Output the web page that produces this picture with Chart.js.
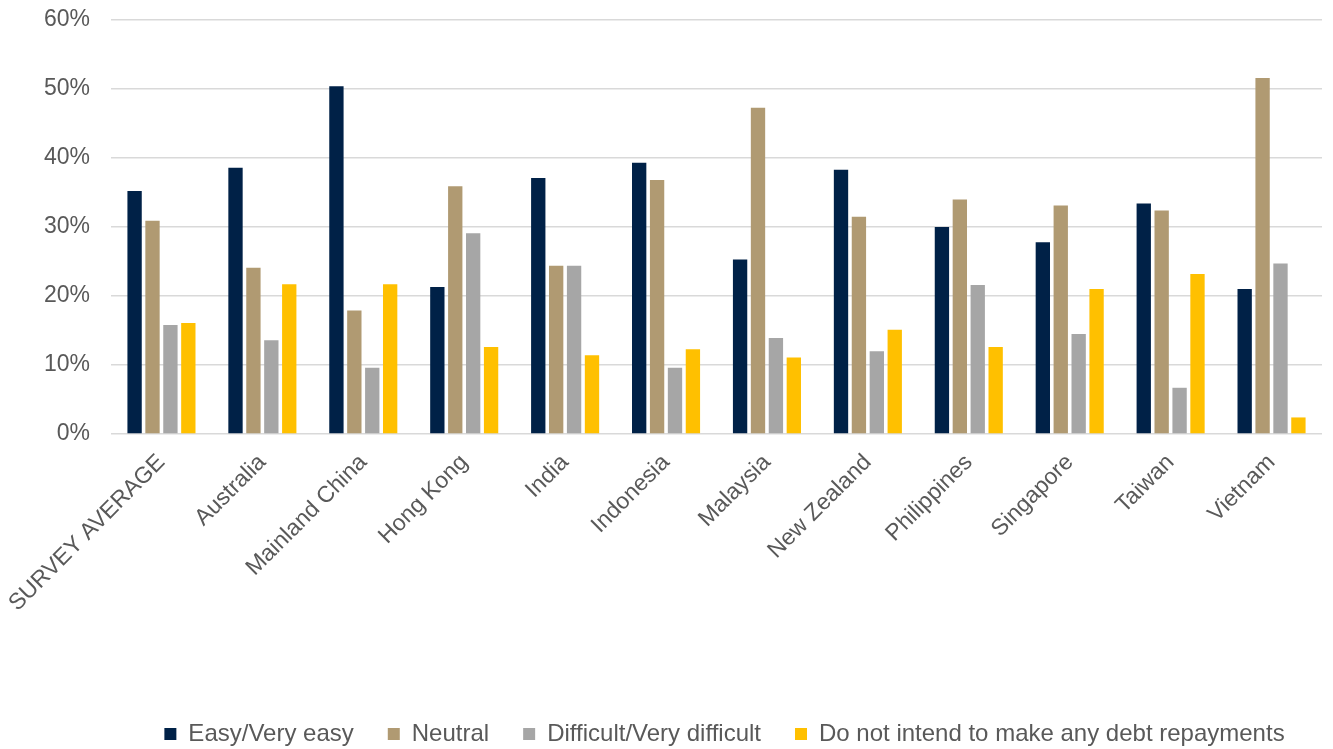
<!DOCTYPE html>
<html>
<head>
<meta charset="utf-8">
<script src="https://cdn.jsdelivr.net/npm/chart.js@4.4.1/dist/chart.umd.min.js"></script>
<style>
html,body{margin:0;padding:0;background:#fff;}
#wrap{width:1333px;height:749px;position:relative;}
</style>
</head>
<body>
<div id="wrap"><canvas id="c" width="1333" height="749"></canvas></div>
<script>
const categories = ['SURVEY AVERAGE','Australia','Mainland China','Hong Kong','India','Indonesia','Malaysia','New Zealand','Philippines','Singapore','Taiwan','Vietnam'];
const seriesNames = ['Easy/Very easy','Neutral','Difficult/Very difficult','Do not intend to make any debt repayments'];
const easy      = [35.2,38.6,50.4,21.3,37.1,39.3,25.3,38.3,30.0,27.8,33.4,21.0];
const neutral   = [30.9,24.1,17.9,35.9,24.4,36.8,47.3,31.5,34.0,33.1,32.4,51.6];
const difficult = [15.8,13.6,9.6,29.1,24.4,9.6,13.9,12.0,21.6,14.5,6.7,24.7];
const noRepay   = [16.1,21.7,21.7,12.6,11.4,12.3,11.1,15.1,12.6,21.0,23.2,2.4];
const yTicks = [0,10,20,30,40,50,60];

const colors = ['#002147','#b09a72','#a6a6a6','#ffc000'];
const values = [easy, neutral, difficult, noRepay];
const FONT = "'Liberation Sans', Arial, sans-serif";
const TXT = '#595959';

const legendSpacing = {
  id: 'legendSpacing',
  beforeInit(chart) {
    const orig = chart.legend.fit;
    chart.legend.fit = function () {
      orig.bind(chart.legend)();
      this.height = 61;
      if (this.lineWidths && this.lineWidths.length) this.lineWidths[0] -= 16;
    };
  }
};

new Chart(document.getElementById('c'), {
  type: 'bar',
  data: {
    labels: categories,
    datasets: values.map((v, i) => ({
      label: seriesNames[i],
      data: v,
      backgroundColor: colors[i],
      borderWidth: 0,
      categoryPercentage: 0.71,
      barPercentage: 0.8
    }))
  },
  options: {
    responsive: false,
    animation: false,
    layout: { padding: { top: 0, right: 11, left: 0, bottom: 0 } },
    plugins: {
      tooltip: { enabled: false },
      legend: {
        position: 'bottom',
        fullSize: false,
        labels: {
          boxWidth: 12,
          boxHeight: 12,
          padding: 34,
          color: TXT,
          font: { family: FONT, size: 24 }
        }
      }
    },
    scales: {
      x: {
        grid: { display: false, drawTicks: false },
        border: { display: false },
        ticks: {
          color: TXT,
          font: { family: FONT, size: 23 },
          minRotation: 45,
          maxRotation: 45,
          autoSkip: false,
          padding: 15
        },
        afterFit(scale) {
          scale.height = 254;
          scale.paddingLeft = 0;
          scale.paddingRight = 0;
        }
      },
      y: {
        min: 0,
        max: 60,
        grid: { color: '#d9d9d9', lineWidth: 1.5, drawTicks: false },
        border: { display: false },
        afterBuildTicks(scale) { scale.ticks = yTicks.map(v => ({ value: v })); },
        ticks: {
          color: TXT,
          font: { family: FONT, size: 23 },
          padding: 21,
          callback: v => v + '%'
        },
        afterFit(scale) {
          scale.width = 111;
          scale.paddingTop = 20;
          scale.paddingBottom = 0;
        }
      }
    }
  },
  plugins: [legendSpacing]
});
</script>
</body>
</html>
